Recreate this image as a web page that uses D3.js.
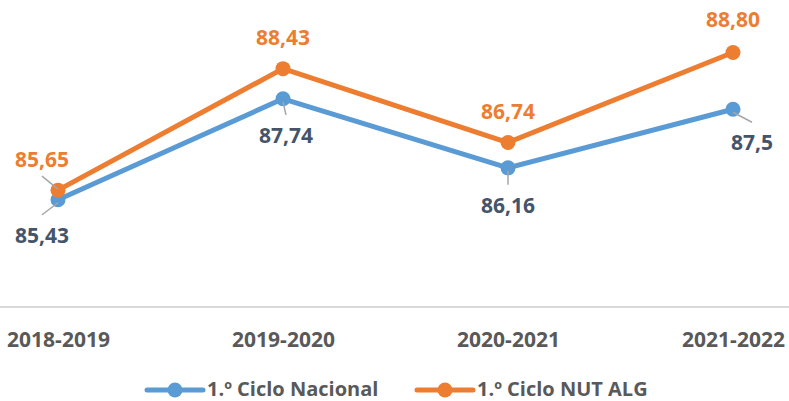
<!DOCTYPE html>
<html>
<head>
<meta charset="utf-8">
<script src="https://cdn.jsdelivr.net/npm/d3@7"></script>
<style>
  html, body { margin: 0; padding: 0; background: #fff; }
  svg text { font-family: "Open Sans", "Liberation Sans", sans-serif; font-weight: bold; }
</style>
</head>
<body>
<svg id="chart" width="789" height="401"></svg>
<script>
var categories = ["2018-2019", "2019-2020", "2020-2021", "2021-2022"];
var nacional = [85.43, 87.74, 86.16, 87.5];
var nacionalLabels = ["85,43", "87,74", "86,16", "87,5"];
var algarve = [85.65, 88.43, 86.74, 88.80];
var algarveLabels = ["85,65", "88,43", "86,74", "88,80"];
var seriesNames = ["1.º Ciclo Nacional", "1.º Ciclo NUT ALG"];

// label offsets from the point: [dx, dy, leader line?]
var nacionalOffsets = [[-16, 35, true], [3, 36, true], [0, 37, true], [19, 33, true]];
var algarveOffsets = [[-16, -31, true], [0, -32, false], [0, -32, false], [0, -33, false]];

var blue = "#5b9bd5", orange = "#ed7d31";

var svg = d3.select("#chart");
var x = d3.scalePoint().domain(categories).range([58, 733]);
var y = d3.scaleLinear().domain([83, 90]).range([306, 0]);

// x axis
var axis = svg.append("g")
    .attr("transform", "translate(0,306)")
    .call(d3.axisBottom(x).tickSize(0).tickPadding(0));
axis.select(".domain").remove();
axis.append("line")
    .attr("x1", 0).attr("x2", 789).attr("y1", 1).attr("y2", 1)
    .attr("stroke", "#d9d9d9").attr("stroke-width", 2);
axis.selectAll(".tick text")
    .attr("y", 41).attr("dy", 0)
    .attr("fill", "#595959")
    .style("font-size", "21px")
    .style("font-family", "'Open Sans', sans-serif")
    .style("font-weight", "bold");

var line = d3.line()
    .x(function(d, i) { return x(categories[i]); })
    .y(function(d) { return y(d); });

function drawSeries(values, color) {
  var g = svg.append("g");
  g.append("path")
      .datum(values)
      .attr("d", line)
      .attr("fill", "none")
      .attr("stroke", color)
      .attr("stroke-width", 5)
      .attr("stroke-linejoin", "round");
  g.selectAll("circle")
      .data(values)
      .enter().append("circle")
      .attr("cx", function(d, i) { return x(categories[i]); })
      .attr("cy", function(d) { return y(d); })
      .attr("r", 7.5)
      .attr("fill", color);
  return g;
}

function drawLabels(values, labels, offsets, color) {
  var g = svg.append("g");
  values.forEach(function(v, i) {
    var px = x(categories[i]), py = y(v);
    var lx = px + offsets[i][0], ly = py + offsets[i][1];
    if (offsets[i][2]) {
      var ey = offsets[i][1] > 0 ? ly - 20 : ly + 17;
      g.append("line")
          .attr("x1", px).attr("y1", py + (offsets[i][1] > 0 ? 3 : -1))
          .attr("x2", lx).attr("y2", ey)
          .attr("stroke", "#a6a6a6").attr("stroke-width", 1.5);
    }
    g.append("text")
        .attr("x", lx).attr("y", ly + 8)
        .attr("text-anchor", "middle")
        .attr("fill", color)
        .style("font-size", "21px")
        .text(labels[i]);
  });
}

drawSeries(nacional, blue);
drawSeries(algarve, orange);
drawLabels(nacional, nacionalLabels, nacionalOffsets, "#44546a");
drawLabels(algarve, algarveLabels, algarveOffsets, orange);

// legend
var legendItems = [
  { name: seriesNames[0], color: blue, x: 147 },
  { name: seriesNames[1], color: orange, x: 417 }
];
var legend = svg.append("g").attr("transform", "translate(0,390)");
legendItems.forEach(function(d) {
  legend.append("line")
      .attr("x1", d.x).attr("x2", d.x + 56)
      .attr("stroke", d.color).attr("stroke-width", 5)
      .attr("stroke-linecap", "round");
  legend.append("circle")
      .attr("cx", d.x + 28).attr("r", 7.5).attr("fill", d.color);
  legend.append("text")
      .attr("x", d.x + 60).attr("y", 6)
      .attr("fill", "#595959")
      .style("font-size", "20px")
      .text(d.name);
});
</script>
</body>
</html>
